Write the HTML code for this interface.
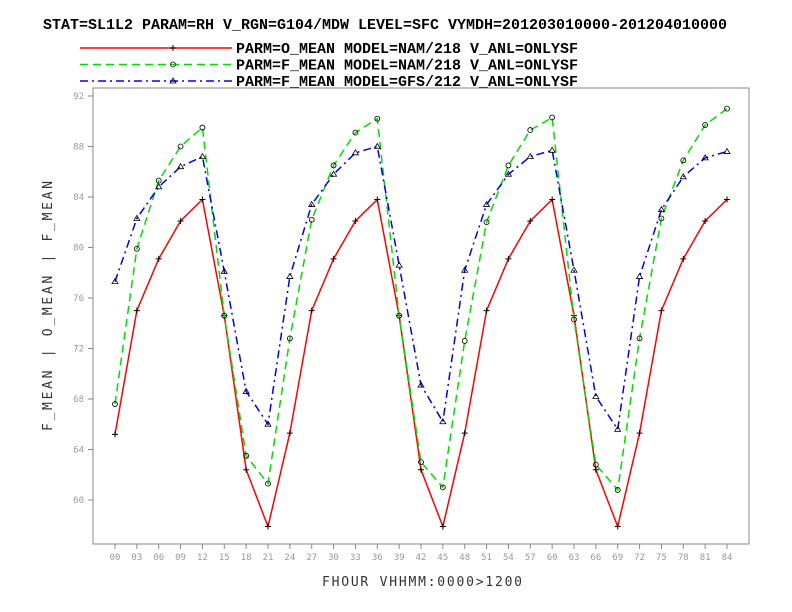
<!DOCTYPE html>
<html><head><meta charset="utf-8"><style>
body{margin:0;background:#fff;}
svg{display:block;font-family:"Liberation Sans",sans-serif;}
</style></head><body>
<svg id="c" width="792" height="612">
<text x="385" y="29" text-anchor="middle" font-weight="bold" font-size="15" font-family="Liberation Mono, monospace" textLength="684" lengthAdjust="spacingAndGlyphs">STAT=SL1L2 PARAM=RH V_RGN=G104/MDW LEVEL=SFC VYMDH=201203010000-201204010000</text>
<g id="legend"></g>
<rect x="93" y="88" width="656" height="456" fill="none" stroke="#888" stroke-width="1"/>
<g id="ax"></g><g id="series"></g>
<text transform="translate(52,306) rotate(-90)" text-anchor="middle" font-size="13" fill="#333" font-family="DejaVu Sans Mono, monospace" textLength="250" lengthAdjust="spacing">F_MEAN | O_MEAN | F_MEAN</text>
<text x="422" y="586" text-anchor="middle" font-size="13" fill="#333" font-family="DejaVu Sans Mono, monospace" textLength="200" lengthAdjust="spacing">FHOUR VHHMM:0000&gt;1200</text>
</svg>
<script>
const categories=["00","03","06","09","12","15","18","21","24","27","30","33","36","39","42","45","48","51","54","57","60","63","66","69","72","75","78","81","84"];
const yTicks=[60,64,68,72,76,80,84,88,92];
const oMeanNam=[65.2,75.0,79.1,82.1,83.8,74.6,62.4,57.9,65.3,75.0,79.1,82.1,83.8,74.6,62.4,57.9,65.3,75.0,79.1,82.1,83.8,74.6,62.4,57.9,65.3,75.0,79.1,82.1,83.8];
const fMeanNam=[67.6,79.9,85.3,88.0,89.5,74.6,63.5,61.3,72.8,82.2,86.5,89.1,90.2,74.6,63.0,61.0,72.6,82.0,86.5,89.3,90.3,74.3,62.8,60.8,72.8,82.3,86.9,89.7,91.0];
const fMeanGfs=[77.3,82.3,84.8,86.4,87.2,78.1,68.6,66.0,77.7,83.4,85.8,87.5,88.0,78.6,69.1,66.2,78.2,83.4,85.8,87.2,87.7,78.2,68.2,65.6,77.7,83.0,85.6,87.1,87.6];
const labels=["PARM=O_MEAN MODEL=NAM/218 V_ANL=ONLYSF","PARM=F_MEAN MODEL=NAM/218 V_ANL=ONLYSF","PARM=F_MEAN MODEL=GFS/212 V_ANL=ONLYSF"];
const NS="http://www.w3.org/2000/svg";
const X=i=>115+i*(612/28);
const Y=v=>96+(92-v)*12.625;
function mk(t,a,p){const e=document.createElementNS(NS,t);for(const k in a)e.setAttribute(k,a[k]);p.appendChild(e);return e;}
const ax=document.getElementById('ax');
yTicks.forEach(v=>{
 const l=mk('line',{x1:88,x2:93,y1:Y(v),y2:Y(v),stroke:'#888'},ax);
 
 
 const t=mk('text',{x:84,y:Y(v)+3,'text-anchor':'end','font-size':9,fill:'#999','font-family':'DejaVu Sans Mono, monospace'},ax);
 t.textContent=v;
 
 
});
categories.forEach((c,i)=>{
 const l=mk('line',{x1:X(i),x2:X(i),y1:544,y2:549,stroke:'#888'},ax);
 
 
 const t=mk('text',{x:X(i),y:560,'text-anchor':'middle','font-size':9,fill:'#999','font-family':'DejaVu Sans Mono, monospace'},ax);
 t.textContent=c;
 
 
});
const styles=[{c:'#ff0000',d:'',m:'plus'},{c:'#00dd00',d:'8,5',m:'circle'},{c:'#0000ee',d:'8,4,2,4',m:'tri'}];
function marker(type,x,y,g){
 let e;
 if(type==='plus')e=mk('path',{d:`M${x-3},${y}h6M${x},${y-3}v6`,stroke:'#000','stroke-width':1},g);
 else if(type==='circle')e=mk('circle',{cx:x,cy:y,r:2.5,fill:'none',stroke:'#000','stroke-width':0.8},g);
 else e=mk('path',{d:`M${x},${y-3}L${x+3},${y+2}L${x-3},${y+2}Z`,fill:'none',stroke:'#000','stroke-width':0.8},g);
 
 
}
const sg=document.getElementById('series');
[oMeanNam,fMeanNam,fMeanGfs].forEach((arr,s)=>{
 const st=styles[s];
 const g=mk('g',{},sg);
 
 
 const p=mk('polyline',{points:arr.map((v,i)=>X(i)+','+Y(v)).join(' '),fill:'none',stroke:st.c,'stroke-width':1.5,'stroke-dasharray':st.d},g);
 
 
 arr.forEach((v,i)=>marker(st.m,X(i),Y(v),g));
});
const lg=document.getElementById('legend');
labels.forEach((lab,s)=>{
 const st=styles[s];const y=48+s*16.5;
 const g=mk('g',{},lg);
 
 
 mk('line',{x1:80,x2:232,y1:y,y2:y,stroke:st.c,'stroke-width':1.5,'stroke-dasharray':st.d},g);
 marker(st.m,173,y,g);
 const t=mk('text',{x:236,y:y+5,'font-size':15,'font-weight':'bold','font-family':'Liberation Mono, monospace',textLength:342,lengthAdjust:'spacingAndGlyphs'},g);
 t.textContent=lab;
 
 
});
</script>
</body></html>
